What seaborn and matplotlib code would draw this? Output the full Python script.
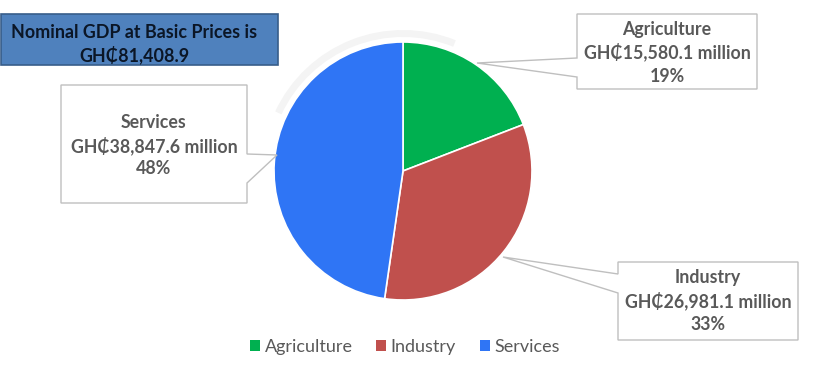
import matplotlib
matplotlib.use("Agg")
import matplotlib.pyplot as plt
import seaborn as sns
from matplotlib.patches import Polygon, Rectangle, Wedge, Patch

sectors = ["Agriculture", "Industry", "Services"]
values = [15580.1, 26981.1, 38847.6]
value_labels = ["GH₵15,580.1 million", "GH₵26,981.1 million", "GH₵38,847.6 million"]
pct_labels = ["19%", "33%", "48%"]
title_lines = ["Nominal GDP at Basic Prices is", "GH₵81,408.9"]

sns.set_theme(style="white")
plt.rcParams['font.family'] = ['Lato', 'DejaVu Sans']

W, H = 816, 368
fig = plt.figure(figsize=(W / 100, H / 100), dpi=100)
ax = fig.add_axes([0, 0, 1, 1])

def Y(py):
    return H - py

colors = sns.color_palette(["#00b050", "#c0504d", "#2f75f5"])
cx, cy, r = 403, 171, 129

# faint shadow arc
ax.add_patch(Wedge((cx, Y(cy)), r + 12, 68, 155, width=7, facecolor="#f4f4f4", edgecolor="none", zorder=0))

wedges, _ = ax.pie(values, colors=colors, startangle=90, counterclock=False,
                   center=(cx, Y(cy)), radius=r, frame=True,
                   wedgeprops=dict(edgecolor="white", linewidth=1.2))

box_ec = "#bfbfbf"
txt_c = "#595959"
callouts = [
    [(577, 14), (757, 14), (757, 89), (577, 89), (577, 77), (477, 63), (577, 58)],
    [(618, 262), (798, 262), (798, 340), (618, 340), (618, 293), (503, 257), (618, 274)],
    [(61, 85), (247, 85), (247, 154), (277, 155), (247, 183), (247, 203), (61, 203)],
]
text_pos = [
    (667, [29, 52, 76]),
    (708, [277, 301, 325]),
    (154, [123, 146, 169]),
]
for i, poly in enumerate(callouts):
    ax.add_patch(Polygon([(x, Y(y)) for x, y in poly], closed=True, facecolor="white",
                         edgecolor=box_ec, linewidth=1.0, zorder=3))
    x, ys = text_pos[i]
    for s, yy in zip([sectors[i], value_labels[i], pct_labels[i]], ys):
        ax.text(x, Y(yy), s, ha="center", va="center", fontsize=12.8, fontweight="bold",
                color=txt_c, zorder=4)

# title box
ax.add_patch(Rectangle((1, Y(65)), 277, 51, facecolor="#4f81bd", edgecolor="#385d8a",
                       linewidth=1.2, zorder=3))
ax.text(134, Y(32), title_lines[0], ha="center", va="center", fontsize=12.9, fontweight="bold",
        color="#0b1626", zorder=4)
ax.text(134, Y(55), title_lines[1], ha="center", va="center", fontsize=12.9, fontweight="bold",
        color="#0b1626", zorder=4)

handles = [Patch(facecolor=c, edgecolor="none") for c in colors]
ax.legend(handles, sectors, loc="center", bbox_to_anchor=(405 / W, Y(347) / H), ncol=3,
          frameon=False, handlelength=0.55, handleheight=0.55, columnspacing=1.3,
          handletextpad=0.25, fontsize=13, labelcolor=txt_c)

ax.set_xlim(0, W)
ax.set_ylim(0, H)
ax.set_aspect("equal")
ax.axis("off")

fig.savefig("out.png", dpi=100, facecolor="white")
